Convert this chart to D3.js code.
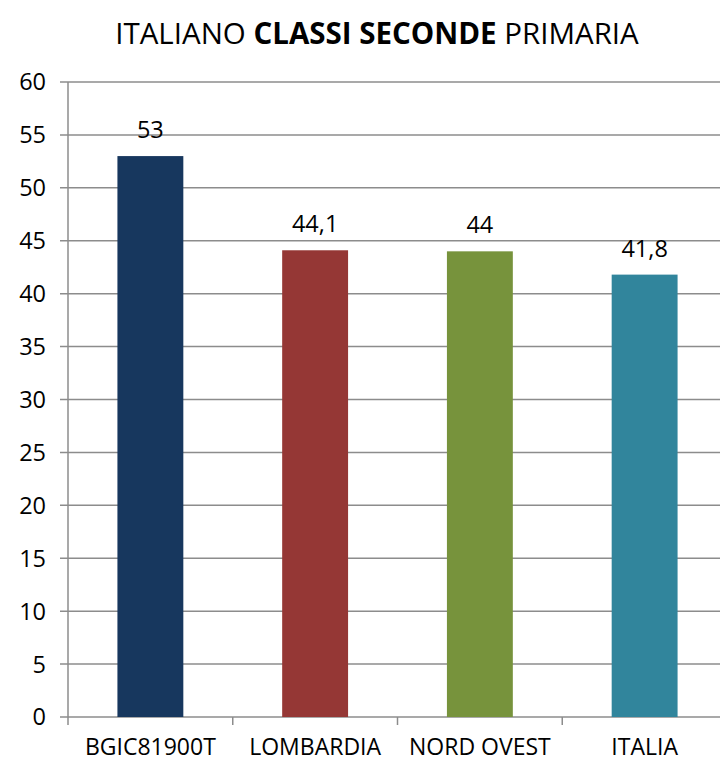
<!DOCTYPE html>
<html>
<head>
<meta charset="utf-8">
<script src="https://cdn.jsdelivr.net/npm/d3@7"></script>
<style>
    body { margin: 0; background: #fff; }
    text { font-family: "Open Sans", sans-serif; fill: #000; }
</style>
</head>
<body>
<div id="chart"></div>
<script>
const categories = ['BGIC81900T', 'LOMBARDIA', 'NORD OVEST', 'ITALIA'];
const values = [53, 44.1, 44, 41.8];
const colors = ['#17375E', '#953735', '#77933C', '#31859C'];
const yTicks = [0, 5, 10, 15, 20, 25, 30, 35, 40, 45, 50, 55, 60];

const width = 720;
const height = 762;
const margin = { top: 82, left: 68, bottom: 45 };
const plotRight = 727; // the plot runs past the right edge of the picture

const svg = d3.select('#chart').append('svg')
    .attr('width', width)
    .attr('height', height);

const x = d3.scaleBand()
    .domain(categories)
    .range([margin.left, plotRight])
    .padding(0);

const y = d3.scaleLinear()
    .domain([0, 60])
    .range([height - margin.bottom, margin.top]);

// Title
const title = svg.append('text')
    .attr('x', 377)
    .attr('y', 44)
    .attr('text-anchor', 'middle')
    .style('font-size', '29.5px');
title.append('tspan').text('ITALIANO ');
title.append('tspan').style('font-weight', 'bold').text('CLASSI SECONDE');
title.append('tspan').text(' PRIMARIA');

// Gridlines
svg.append('g')
    .selectAll('line')
    .data(yTicks)
    .enter()
    .append('line')
    .attr('x1', margin.left - 8)
    .attr('x2', width)
    .attr('y1', d => y(d))
    .attr('y2', d => y(d))
    .attr('stroke', '#8c8c8c')
    .attr('stroke-width', 1.5);

// Y tick labels
svg.append('g')
    .selectAll('text')
    .data(yTicks)
    .enter()
    .append('text')
    .attr('x', 46)
    .attr('y', d => y(d))
    .attr('dy', '0.36em')
    .attr('text-anchor', 'end')
    .style('font-size', '23.5px')
    .text(d => d);

// Y axis line
svg.append('line')
    .attr('x1', margin.left)
    .attr('x2', margin.left)
    .attr('y1', y(60))
    .attr('y2', y(0))
    .attr('stroke', '#8c8c8c')
    .attr('stroke-width', 1.5);

// X ticks at category boundaries
svg.append('g')
    .selectAll('line')
    .data(categories)
    .enter()
    .append('line')
    .attr('x1', d => x(d))
    .attr('x2', d => x(d))
    .attr('y1', y(0))
    .attr('y2', y(0) + 8)
    .attr('stroke', '#8c8c8c')
    .attr('stroke-width', 1.5);

// Bars
const barWidth = x.bandwidth() * 0.4;
svg.append('g')
    .selectAll('rect')
    .data(categories)
    .enter()
    .append('rect')
    .attr('x', d => x(d) + (x.bandwidth() - barWidth) / 2)
    .attr('y', (d, i) => y(values[i]))
    .attr('width', barWidth)
    .attr('height', (d, i) => y(0) - y(values[i]))
    .attr('fill', (d, i) => colors[i]);

// Value labels
svg.append('g')
    .selectAll('text')
    .data(categories)
    .enter()
    .append('text')
    .attr('x', d => x(d) + x.bandwidth() / 2)
    .attr('y', (d, i) => y(values[i]) - 18)
    .attr('text-anchor', 'middle')
    .style('font-size', '23.5px')
    .text((d, i) => String(values[i]).replace('.', ','));

// Category labels
svg.append('g')
    .selectAll('text')
    .data(categories)
    .enter()
    .append('text')
    .attr('x', d => x(d) + x.bandwidth() / 2)
    .attr('y', 755)
    .attr('text-anchor', 'middle')
    .style('font-size', '23px')
    .text(d => d);
</script>
</body>
</html>
